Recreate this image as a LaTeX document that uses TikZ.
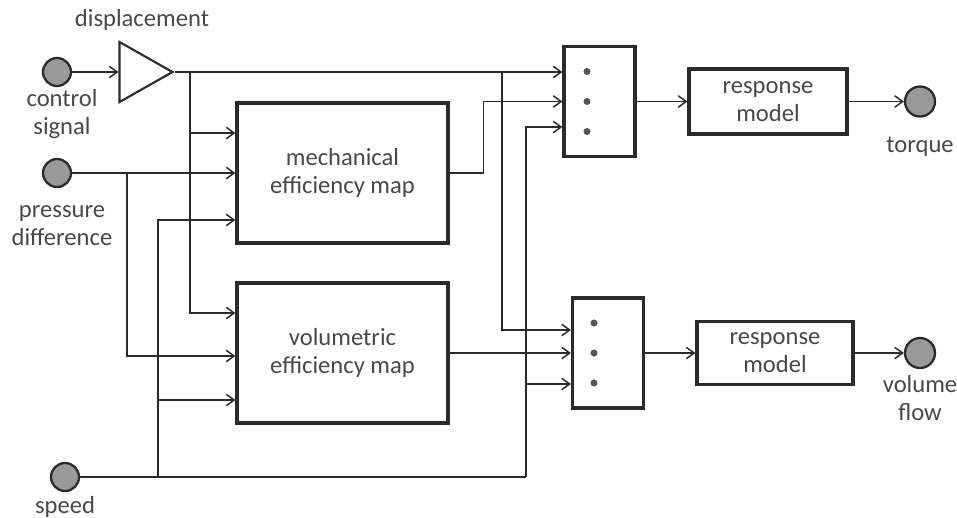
\documentclass[tikz,border=0pt]{standalone}
\usepackage{fontspec}
\setmainfont{Carlito}
\usepackage{tikz}
\usetikzlibrary{arrows.meta}
\usetikzlibrary{shapes.geometric}
\definecolor{txtgray}{HTML}{484848}
\definecolor{portgray}{HTML}{999999}
\definecolor{linegray}{HTML}{2A2A2A}
\tikzstyle{port} = [draw=linegray,circle,fill=portgray,line width=1.3pt,minimum size=0.56cm,inner sep=0mm]
\tikzstyle{block} = [draw=linegray,rectangle,line width=1.8pt,align=center,text=txtgray]
\tikzstyle{mux} = [draw=linegray,rectangle,line width=1.8pt,minimum width=1.42cm,minimum height=2.2cm]
\tikzstyle{amp} = [draw=linegray,isosceles triangle,isosceles triangle stretches,line width=1.2pt,minimum width=1.2cm,minimum height=1.06cm,inner sep=0mm]
\tikzstyle{lbl} = [align=center,text=txtgray,inner sep=0pt]
\tikzstyle{conn} = [draw=linegray,line width=0.85pt,-{Straight Barb[length=4.5pt,width=6.5pt]}]
\tikzstyle{wire} = [draw=linegray,line width=0.85pt]

\begin{document}
\begin{tikzpicture}[x=0.2cm,y=-0.2cm,font=\fontsize{14}{16}\selectfont]
\useasboundingbox (0,0) rectangle (95.7,51.7);

% inputs
\node[port] (cs) at (5.7,7.2) {};
\node[lbl] (cslbl) at (6.2,11.4) {control\\signal};
\node[port] (pd) at (5.7,17.3) {};
\node[lbl] (pdlbl) at (6.2,22.6) {pressure\\difference};
\node[port] (sp) at (6.5,47.7) {};
\node[lbl] (splbl) at (6.5,50.7) {speed};

\node[amp] (disp) at (13.7,7.2) {};
\node[lbl] (displbl) at (14.2,2.0) {displacement};

% maps
\node[block,minimum width=4.22cm,minimum height=2.8cm] (mech) at (34.25,17.3) {mechanical\\efficiency map};
\node[block,minimum width=4.22cm,minimum height=2.8cm] (vol) at (34.25,35.3) {volumetric\\efficiency map};

% muxes
\node[mux] (mux1) at (59.95,10.15) {};
\node[mux] (mux2) at (60.8,35.3) {};
\fill[portgray!55!black] ([xshift=-0.25cm,yshift=0.6cm]mux1.center) circle (2pt);
\fill[portgray!55!black] ([xshift=-0.25cm]mux1.center) circle (2pt);
\fill[portgray!55!black] ([xshift=-0.25cm,yshift=-0.6cm]mux1.center) circle (2pt);
\fill[portgray!55!black] ([xshift=-0.28cm,yshift=0.6cm]mux2.center) circle (2pt);
\fill[portgray!55!black] ([xshift=-0.28cm]mux2.center) circle (2pt);
\fill[portgray!55!black] ([xshift=-0.28cm,yshift=-0.6cm]mux2.center) circle (2pt);

% outputs
\node[block,minimum width=3.16cm,minimum height=1.3cm] (rm1) at (76.8,10.15) {response\\model};
\node[block,minimum width=3.12cm,minimum height=1.26cm] (rm2) at (77.5,35.3) {response\\model};
\node[port,minimum size=0.6cm] (tq) at (92.0,10.15) {};
\node[lbl] (tqlbl) at (92.0,14.7) {torque};
\node[port,minimum size=0.6cm] (vf) at (92.0,35.3) {};
\node[lbl] (vflbl) at (92.0,39.8) {volume\\flow};

% input points
\coordinate (m1) at ([yshift=0.8cm]mech.west);
\coordinate (m3) at ([yshift=-0.94cm]mech.west);
\coordinate (v1) at ([yshift=0.8cm]vol.west);
\coordinate (v2) at ([yshift=-0.06cm]vol.west);
\coordinate (v3) at ([yshift=-0.94cm]vol.west);
\coordinate (a2) at (mux1.west);
\coordinate (a3) at ([yshift=-0.51cm]mux1.west);
\coordinate (b1) at ([yshift=0.46cm]mux2.west);
\coordinate (b3) at ([yshift=-0.62cm]mux2.west);

% junctions
\coordinate (jd) at (19.0,7.2);
\coordinate (jm) at (50.2,7.2);
\coordinate (jp) at (12.7,17.3);
\coordinate (js) at (15.8,47.7);
\coordinate (jt) at (52.6,47.7);

% wiring
\draw[conn] (cs) -- (disp);
\draw[conn] (disp.apex) -- (disp.apex -| mux1.west);
\draw[conn] (jd) |- (v1);
\draw[conn] (jd |- m1) -- (m1);
\draw[conn] (jm) |- (b1);

\draw[conn] (pd) -- (mech.west);
\draw[conn] (jp) |- (v2);

\draw[wire] (sp) -- (jt);
\draw[conn] (js) |- (m3);
\draw[conn] (js |- v3) -- (v3);
\draw[conn] (jt) |- (a3);
\draw[conn] (jt |- b3) -- (b3);

\draw[conn] (mech.east) -- ++(3.4,0) |- (a2);
\draw[conn] (vol.east) -- (mux2.west);

\draw[conn] (mux1) -- (rm1);
\draw[conn] (rm1) -- (tq);
\draw[conn] (mux2) -- (rm2);
\draw[conn] (rm2) -- (vf);

\end{tikzpicture}
\end{document}
